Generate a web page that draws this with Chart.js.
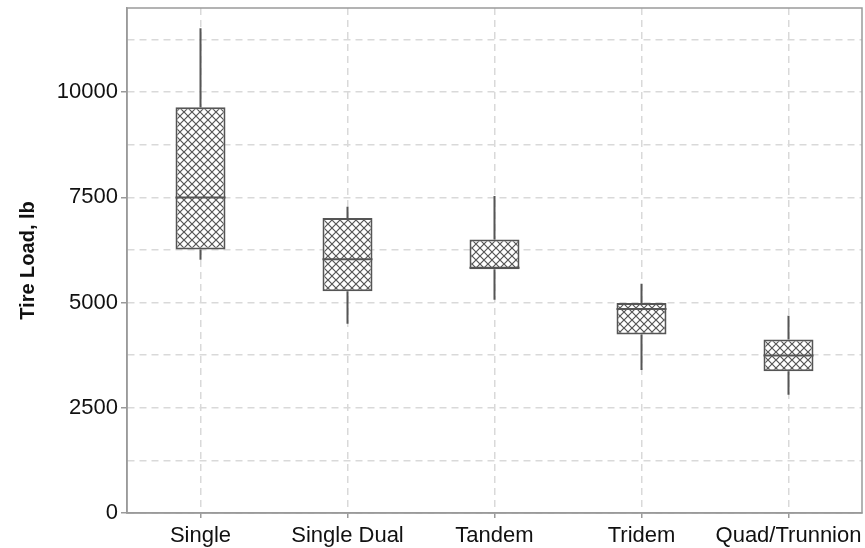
<!DOCTYPE html>
<html lang="en">
<head>
  <meta charset="UTF-8" />
  <title>Tire Load by Axle Type</title>
  <style>
    html, body { margin: 0; padding: 0; background: #fff; }
    #wrap { width: 865px; height: 548px; }
  </style>
</head>
<body>
  <div id="wrap"><canvas id="loadChart" width="865" height="548"></canvas></div>

  <script src="https://cdn.jsdelivr.net/npm/chart.js"></script>
  <script>
    // values (lb)
    const categories = ['Single', 'Single Dual', 'Tandem', 'Tridem', 'Quad/Trunnion'];
    const whiskerLow = [6020, 4500, 5070, 3400, 2810];
    const q1 = [6260, 5270, 5790, 4240, 3370];
    const median = [7500, 6030, 5830, 4850, 3740];
    const q3 = [9640, 7010, 6500, 4990, 4120];
    const whiskerHigh = [11520, 7280, 7530, 5450, 4690];
    const yTicks = [0, 2500, 5000, 7500, 10000];

    const lineColor = '#555555';
    const gridColor = '#d9d9d9';
    const axisColor = '#9a9a9a';

    // crosshatch fill
    function makeHatch() {
      const c = document.createElement('canvas');
      c.width = 8; c.height = 8;
      const g = c.getContext('2d');
      g.fillStyle = '#fff';
      g.fillRect(0, 0, 8, 8);
      g.strokeStyle = '#555';
      g.lineWidth = 1.2;
      g.beginPath();
      g.moveTo(-1, -1); g.lineTo(9, 9);
      g.moveTo(-1, 9); g.lineTo(9, -1);
      g.stroke();
      return g.createPattern(c, 'repeat');
    }

    const boxPlot = {
      id: 'boxPlot',
      beforeDatasetsDraw(chart) {
        const { ctx, scales: { y } } = chart;
        const meta = chart.getDatasetMeta(0);
        ctx.save();
        ctx.strokeStyle = lineColor;
        ctx.lineWidth = 2;
        meta.data.forEach((bar, i) => {
          ctx.beginPath();
          ctx.moveTo(bar.x, y.getPixelForValue(whiskerHigh[i]));
          ctx.lineTo(bar.x, y.getPixelForValue(q3[i]));
          ctx.moveTo(bar.x, y.getPixelForValue(q1[i]));
          ctx.lineTo(bar.x, y.getPixelForValue(whiskerLow[i]));
          ctx.stroke();
        });
        ctx.restore();
      },
      afterDatasetsDraw(chart) {
        const { ctx, scales: { y } } = chart;
        const meta = chart.getDatasetMeta(0);
        ctx.save();
        ctx.strokeStyle = lineColor;
        ctx.lineWidth = 2;
        meta.data.forEach((bar, i) => {
          const py = y.getPixelForValue(median[i]);
          ctx.beginPath();
          ctx.moveTo(bar.x - bar.width / 2, py);
          ctx.lineTo(bar.x + bar.width / 2, py);
          ctx.stroke();
        });
        // frame around plot area
        const a = chart.chartArea;
        ctx.strokeStyle = axisColor;
        ctx.lineWidth = 1.5;
        ctx.strokeRect(a.left, a.top, a.right - a.left, a.bottom - a.top);
        ctx.restore();
      }
    };

    const ctx = document.getElementById('loadChart').getContext('2d');
    new Chart(ctx, {
      type: 'bar',
      data: {
        labels: categories,
        datasets: [{
          data: q1.map((v, i) => [v, q3[i]]),
          backgroundColor: makeHatch(),
          borderColor: lineColor,
          borderWidth: 2,
          borderSkipped: false,
          categoryPercentage: 1,
          barPercentage: 0.34
        }]
      },
      options: {
        responsive: false,
        animation: false,
        layout: { padding: { top: 8, right: 3, left: 0, bottom: 0 } },
        plugins: {
          legend: { display: false },
          tooltip: { enabled: false }
        },
        scales: {
          x: {
            offset: true,
            afterFit(s) { s.height = 35; s.paddingLeft = 0; s.paddingRight = 0; },
            grid: {
              offset: false,
              color: gridColor,
              lineWidth: 1.5,
              tickColor: axisColor,
              tickLength: 5,
              drawOnChartArea: true
            },
            border: { display: true, color: axisColor, width: 1.5, dash: [7, 5] },
            ticks: {
              color: '#111',
              font: { family: '"Liberation Sans", Arial, sans-serif', size: 22 },
              padding: 5,
              maxRotation: 0,
              autoSkip: false
            }
          },
          y: {
            min: 0,
            max: 12000,
            afterFit(s) { s.width = 127; s.paddingTop = 0; s.paddingBottom = 0; },
            afterBuildTicks(s) {
              const t = [];
              for (let v = 0; v <= 11250; v += 1250) t.push({ value: v });
              s.ticks = t;
            },
            grid: {
              color: gridColor,
              lineWidth: 1.5,
              tickLength: 6,
              tickColor: c => (yTicks.includes(c.tick && c.tick.value) ? axisColor : 'rgba(0,0,0,0)')
            },
            border: { display: true, color: axisColor, width: 1.5, dash: [7, 5] },
            ticks: {
              color: '#111',
              font: { family: '"Liberation Sans", Arial, sans-serif', size: 22 },
              padding: 3,
              callback: v => (yTicks.includes(v) ? String(v) : '')
            },
            title: {
              display: true,
              text: 'Tire Load, lb',
              color: '#111',
              font: { family: '"Liberation Sans", Arial, sans-serif', size: 20, weight: 'bold' },
              padding: { top: 16, bottom: 0 }
            }
          }
        }
      },
      plugins: [boxPlot]
    });
  </script>
</body>
</html>
